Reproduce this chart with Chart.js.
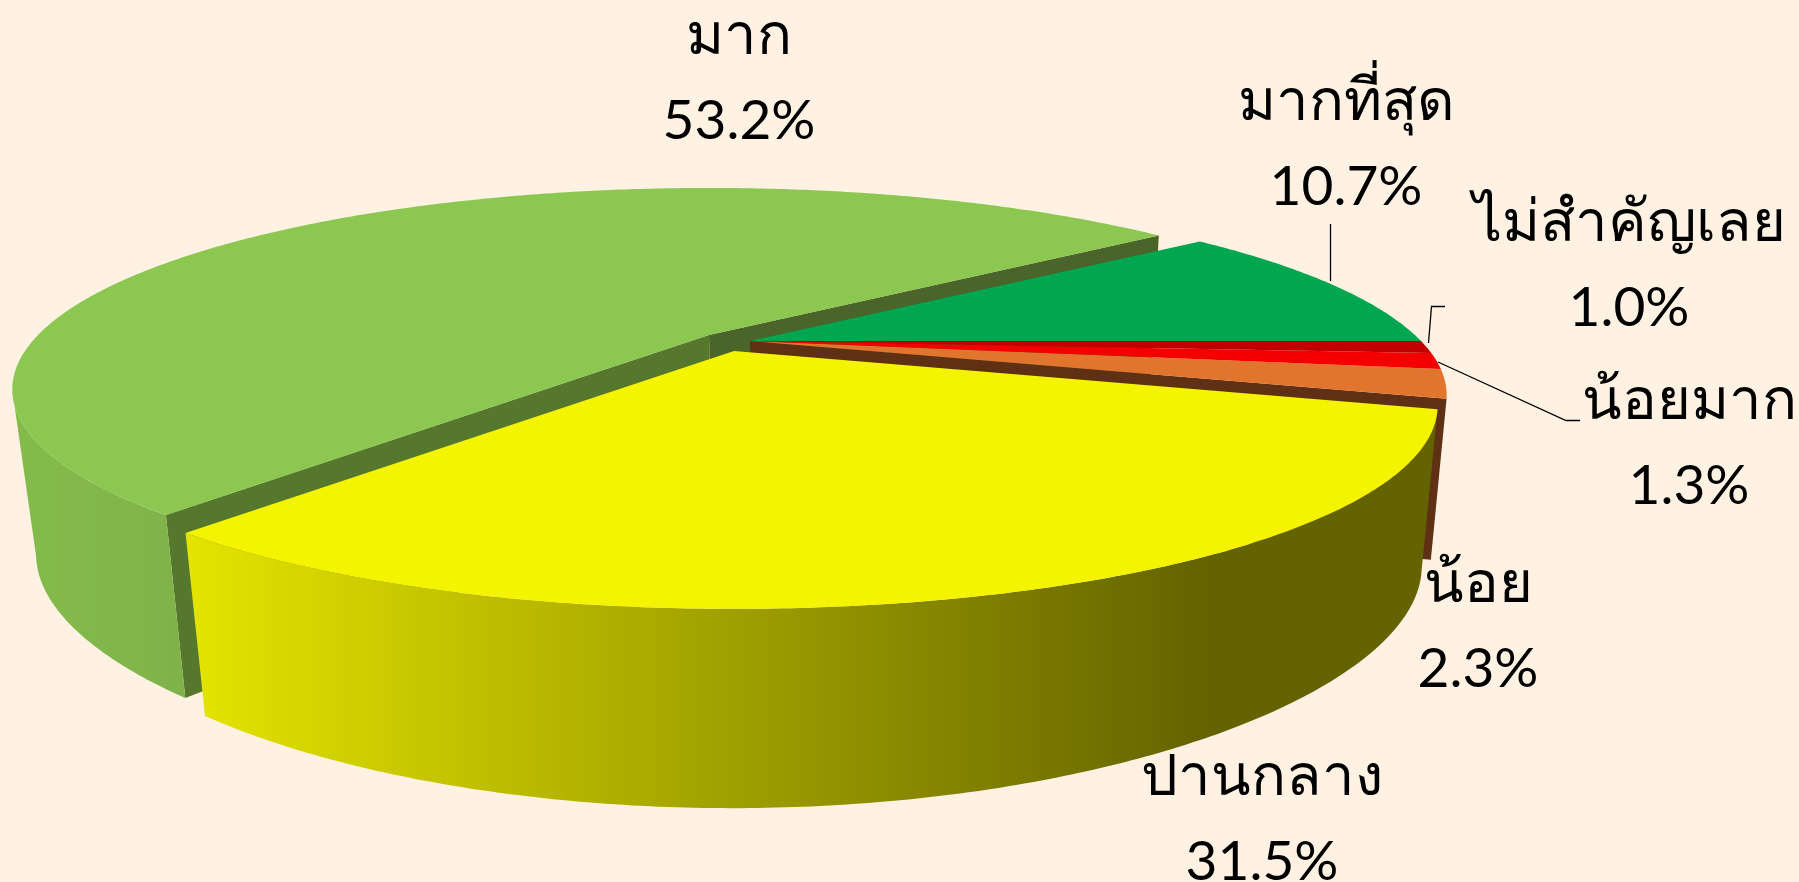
<!DOCTYPE html>
<html>
<head>
<meta charset="utf-8">
<style>
  html, body { margin: 0; height: 100%; background: #fff2e3; overflow: hidden; }
  #wrap { width: 1799px; height: 882px; }
</style>
<script src="https://cdn.jsdelivr.net/npm/chart.js@4"></script>
</head>
<body>
<div id="wrap"><canvas id="pie3d"></canvas></div>
<script>
// Data
const labels = ["มากที่สุด", "ไม่สำคัญเลย", "น้อยมาก", "น้อย", "ปานกลาง", "มาก"];
const values = [10.7, 1.0, 1.3, 2.3, 31.5, 53.2];
const topColors = ["#00a650", "#c00000", "#f40000", "#e2752e", "#f4f400", "#8bc751"];

// where each label sits, order same as labels
const labelAt = [[1346, 103], [1629, 224], [1689, 402], [1478, 585], [1262, 778], [739, 37]];
const lineGap = 84;
const leaders = [
  [[1330.5, 224], [1330.5, 281]],
  [[1445, 306.5], [1431.5, 306.5], [1428.5, 343]],
  [[1438, 362], [1566, 420.5], [1580, 420.5]],
];

// exploded slices: screen shift x, y and a scale about the slice apex
const shifts = [[0, 0, 1], [0, 0, 1], [0, 0, 1], [0, 0, 1], [-16, 10, 1.01], [-41, -6, 1]];
const TOP_APEX = [750, 341];
const BOTTOM_APEX = [754, 500];

// map a point of the unit pie onto the tilted top / bottom plane (relative to apex)
function topPoint(u, v) {
  const w = 1 - 0.269 * v;
  return [(671 * u) / w, (186.6 * v) / w];
}
function bottomPoint(u, v) {
  return [(652 * u) / (1 - 0.269 * v), (196 * v - 2 * u) / (1 - 0.336 * v)];
}

function place(p, apex, shift) {
  return [apex[0] + shift[0] + p[0] * shift[2], apex[1] + shift[1] + p[1] * shift[2]];
}

function arcPoints(fn, apex, start, end, shift) {
  const pts = [];
  const steps = Math.max(2, Math.ceil((end - start) / 0.01));
  for (let i = 0; i <= steps; i++) {
    const a = start + ((end - start) * i) / steps;
    pts.push(place(fn(Math.cos(a), Math.sin(a)), apex, shift));
  }
  return pts;
}

function fillPath(ctx, pts, color) {
  ctx.beginPath();
  pts.forEach((p, i) => (i ? ctx.lineTo(p[0], p[1]) : ctx.moveTo(p[0], p[1])));
  ctx.closePath();
  ctx.fillStyle = color;
  ctx.fill();
}

function cutFace(ctx, angle, shift, color) {
  const u = Math.cos(angle);
  const v = Math.sin(angle);
  fillPath(
    ctx,
    [
      place([0, 0], TOP_APEX, shift),
      place(topPoint(u, v), TOP_APEX, shift),
      place(bottomPoint(u, v), BOTTOM_APEX, shift),
      place([0, 0], BOTTOM_APEX, shift),
    ],
    color
  );
}

function wallGradient(ctx, index) {
  const g = ctx.createLinearGradient(0, 0, 1799, 0);
  if (index === 4) {
    g.addColorStop(0.105, "#e4e400");
    g.addColorStop(0.672, "#636300");
    g.addColorStop(1, "#636300");
  } else {
    g.addColorStop(0, "#84bd4a");
    g.addColorStop(0.1, "#7fb34a");
  }
  return g;
}

const pie3dPlugin = {
  id: "pie3d",
  beforeDatasetsDraw(chart) {
    const ctx = chart.ctx;
    const arcs = chart.getDatasetMeta(0).data;
    // far slices first, the yellow one goes last
    [5, 3, 2, 1, 0, 4].forEach((i) => {
      const { startAngle, endAngle } = arcs[i].getProps(["startAngle", "endAngle"], true);
      const s = shifts[i];
      if (i === 5) {
        cutFace(ctx, startAngle, s, "#55782d");
        cutFace(ctx, endAngle, s, "#4a6429");
      }
      if (i === 3) cutFace(ctx, endAngle, s, "#5f3014");
      // outer wall, only the part that faces the viewer
      if (i === 4 || i === 5) {
        const to = i === 5 ? (164 * Math.PI) / 180 : endAngle;
        const upper = arcPoints(topPoint, TOP_APEX, startAngle, to, s);
        const lower = arcPoints(bottomPoint, BOTTOM_APEX, startAngle, to, s).reverse();
        fillPath(ctx, upper.concat(lower), wallGradient(ctx, i));
      }
      const face = [place([0, 0], TOP_APEX, s)].concat(arcPoints(topPoint, TOP_APEX, startAngle, endAngle, s));
      fillPath(ctx, face, topColors[i]);
    });

    ctx.strokeStyle = "#000000";
    ctx.lineWidth = 1.3;
    leaders.forEach((line) => {
      ctx.beginPath();
      line.forEach((p, i) => (i ? ctx.lineTo(p[0], p[1]) : ctx.moveTo(p[0], p[1])));
      ctx.stroke();
    });

    ctx.fillStyle = "#000000";
    ctx.textAlign = "center";
    ctx.textBaseline = "middle";
    labels.forEach((name, i) => {
      ctx.font = '58px "Noto Sans", sans-serif';
      ctx.fillText(name, labelAt[i][0], labelAt[i][1]);
      ctx.font = '55px Lato, sans-serif';
      ctx.fillText(values[i].toFixed(1) + "%", labelAt[i][0], labelAt[i][1] + lineGap);
    });
    return false; // the flat pie itself is replaced by the drawing above
  },
};

new Chart(document.getElementById("pie3d"), {
  type: "pie",
  data: {
    labels: labels,
    datasets: [{ data: values, backgroundColor: topColors, borderWidth: 0 }],
  },
  options: {
    responsive: true,
    maintainAspectRatio: false,
    animation: false,
    rotation: 51.5,
    plugins: { legend: { display: false }, tooltip: { enabled: false } },
  },
  plugins: [pie3dPlugin],
});
</script>
</body>
</html>
